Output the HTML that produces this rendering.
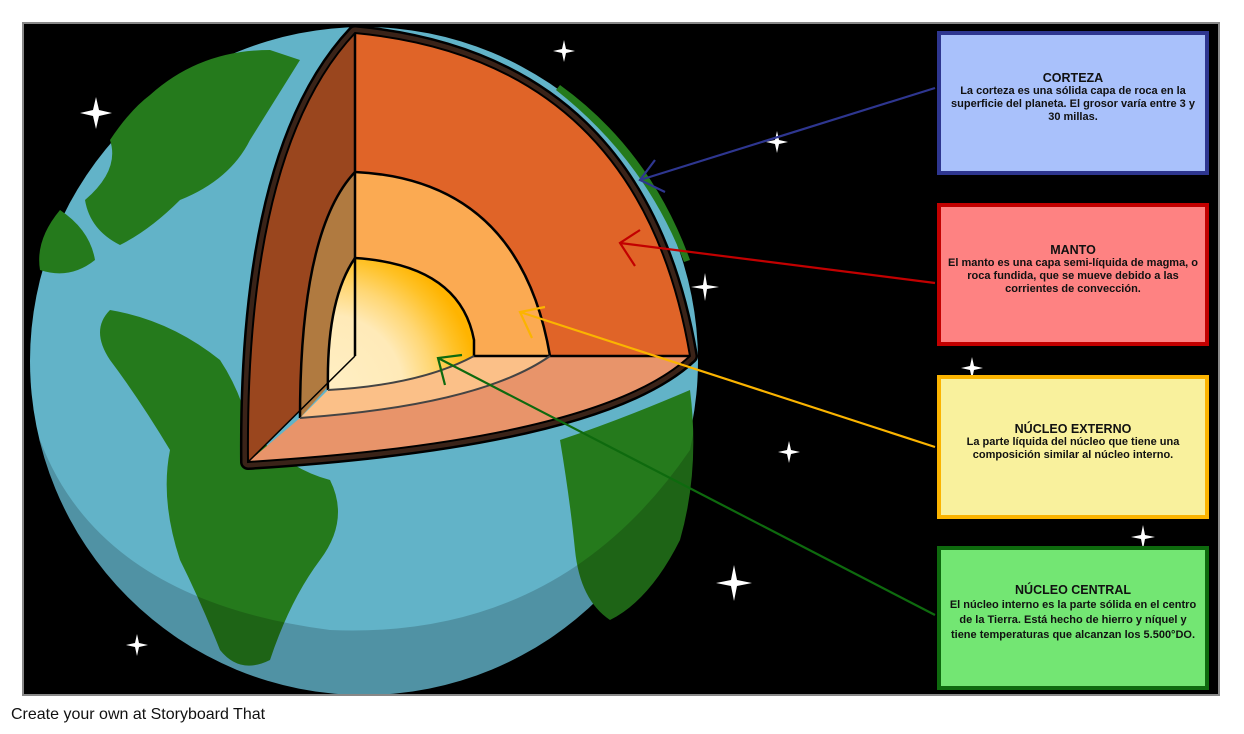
<!DOCTYPE html>
<html><head><meta charset="utf-8"><style>
body{margin:0;width:1244px;height:734px;background:#fff;position:relative;overflow:hidden;font-family:"Liberation Sans",sans-serif}
.box{position:absolute;left:937px;width:264px;box-sizing:content-box;border:4px solid;display:flex;align-items:center;justify-content:center;text-align:center}
.box div{font-family:"Liberation Sans Narrow","Liberation Sans",sans-serif;font-weight:bold;font-size:11px;line-height:13px;color:#111;width:250px;margin-top:-10px}
.box b{font-size:12.5px;display:block}
.foot{position:absolute;left:11px;top:706px;font-size:16px;color:#111}
</style></head><body>
<svg width="1244" height="734" style="position:absolute;left:0;top:0">
<defs>
<clipPath id="pan"><rect x="24" y="24" width="1194" height="670"/></clipPath>
<radialGradient id="cg" cx="328" cy="390" r="150" gradientUnits="userSpaceOnUse">
<stop offset="0" stop-color="#ffefc4"/><stop offset="0.5" stop-color="#ffeab8"/><stop offset="0.7" stop-color="#ffd775"/><stop offset="0.88" stop-color="#ffc228"/><stop offset="1" stop-color="#ffb400"/></radialGradient>
</defs>
<rect x="23" y="23" width="1196" height="672" fill="#000" stroke="#888" stroke-width="2"/>
<g clip-path="url(#pan)">
<circle cx="364" cy="361" r="334" fill="#62b3c8"/>
<g fill="#257a1c">
<path d="M150,95 Q200,50 270,50 L300,60 L250,140 Q230,180 180,200 Q150,230 120,245 Q90,230 85,200 Q120,170 110,140 Q130,110 150,95Z"/>
<path d="M60,210 Q90,230 95,260 Q70,280 40,270 Q35,240 60,210Z"/>
<path d="M110,310 Q170,320 220,360 Q240,390 250,430 Q290,470 330,480 Q350,520 320,560 Q290,600 270,660 Q240,675 220,650 Q200,600 180,560 Q160,500 170,450 Q140,400 110,360 Q90,330 110,310Z"/>
<path d="M560,440 Q620,420 690,390 Q700,470 680,540 Q650,600 610,620 Q580,600 575,550 Q570,500 560,440Z"/>
</g>
<path d="M560,85 Q650,150 690,260 L684,262 Q645,160 556,90Z" fill="#257a1c"/>
<path d="M40,440 Q100,600 330,630 Q560,640 690,450 L700,400 L700,700 L30,700Z" fill="#000" opacity="0.18"/>
<g fill="#fff">
<path d="M93,110 l3,-13 l3,13 l13,3 l-13,3 l-3,13 l-3,-13 l-13,-3Z"/>
<path d="M562,49 l2,-9 l2,9 l9,2 l-9,2 l-2,9 l-2,-9 l-9,-2Z"/>
<path d="M775,140 l2,-9 l2,9 l9,2 l-9,2 l-2,9 l-2,-9 l-9,-2Z"/>
<path d="M703,285 l2,-12 l2,12 l12,2 l-12,2 l-2,12 l-2,-12 l-12,-2Z"/>
<path d="M970,366 l2,-9 l2,9 l9,2 l-9,2 l-2,9 l-2,-9 l-9,-2Z"/>
<path d="M787,450 l2,-9 l2,9 l9,2 l-9,2 l-2,9 l-2,-9 l-9,-2Z"/>
<path d="M731,580 l3,-15 l3,15 l15,3 l-15,3 l-3,15 l-3,-15 l-15,-3Z"/>
<path d="M1141,535 l2,-10 l2,10 l10,2 l-10,2 l-2,10 l-2,-10 l-10,-2Z"/>
<path d="M135,643 l2,-9 l2,9 l9,2 l-9,2 l-2,9 l-2,-9 l-9,-2Z"/>
</g>
</g>
<!-- cutaway -->
<path d="M355,33 Q640,60 690,356 Q600,440 248,462 Q245,150 355,33Z" fill="none" stroke="#000" stroke-width="16" stroke-linejoin="round"/>
<path d="M355,33 Q640,60 690,356 Q600,440 248,462 Q245,150 355,33Z" fill="none" stroke="#3a2318" stroke-width="11" stroke-linejoin="round"/>
<path d="M355,33 Q245,150 248,462 L355,356Z" fill="#9a461e"/>
<path d="M355,172 Q300,230 300,418 L355,356Z" fill="#b07a40"/>
<path d="M355,33 Q640,60 690,356 L550,356 Q520,180 355,172Z" fill="#e06428"/>
<path d="M690,356 Q600,440 248,462 L300,418 Q480,405 550,356Z" fill="#e8946a"/>
<path d="M550,356 Q480,405 300,418 L328,390 Q420,385 474,356Z" fill="#fbc088"/>
<path d="M355,172 Q520,180 550,356 L474,356 Q460,265 355,258Z" fill="#fbaa52"/>
<path d="M355,258 Q460,265 474,340 L474,356 Q420,385 328,390 Q326,300 355,258Z" fill="url(#cg)"/>
<g fill="none" stroke="#000" stroke-width="2.5">
<path d="M355,33 V356"/><path d="M355,172 Q520,180 550,356"/><path d="M355,172 Q300,230 300,418"/>
<path d="M355,258 Q460,265 474,340 L474,356 H690"/><path d="M355,258 Q326,300 328,390"/>
<path d="M248,462 L355,356" stroke-width="1.5"/>
</g>
<g fill="none" stroke="#444" stroke-width="2"><path d="M550,356 Q480,405 300,418"/><path d="M474,356 Q420,385 328,390"/></g>
<path d="M355,33 Q640,60 690,356 Q600,440 248,462 Q245,150 355,33Z" fill="none" stroke="#000" stroke-width="2"/>
<!-- arrows -->
<g fill="none" stroke-width="2.2">
<path d="M935,88 L640,180 M655,160 L640,180 L665,192" stroke="#2e3690"/>
<path d="M935,283 L620,243 M640,230 L620,243 L635,266" stroke="#c20000"/>
<path d="M935,447 L520,312 M545,307 L520,312 L532,338" stroke="#fbb400"/>
<path d="M935,615 L438,358 M462,355 L438,358 L445,385" stroke="#0e6a0e"/>
</g>
</svg>
<div class="box" style="top:31px;height:136px;background:#a9c1fb;border-color:#2e3690"><div><b>CORTEZA</b>La corteza es una sólida capa de roca en la superficie del planeta. El grosor varía entre 3 y 30 millas.</div></div>
<div class="box" style="top:203px;height:135px;background:#fe8282;border-color:#c20000"><div><b>MANTO</b>El manto es una capa semi-líquida de magma, o roca fundida, que se mueve debido a las corrientes de convección.</div></div>
<div class="box" style="top:375px;height:136px;background:#f9f19d;border-color:#fbb400"><div><b>NÚCLEO EXTERNO</b>La parte líquida del núcleo que tiene una composición similar al núcleo interno.</div></div>
<div class="box" style="top:546px;height:136px;background:#73e673;border-color:#0e6a0e"><div style="line-height:15px"><b>NÚCLEO CENTRAL</b>El núcleo interno es la parte sólida en el centro de la Tierra. Está hecho de hierro y níquel y tiene temperaturas que alcanzan los 5.500°DO.</div></div>
<div class="foot">Create your own at Storyboard That</div>
</body></html>
